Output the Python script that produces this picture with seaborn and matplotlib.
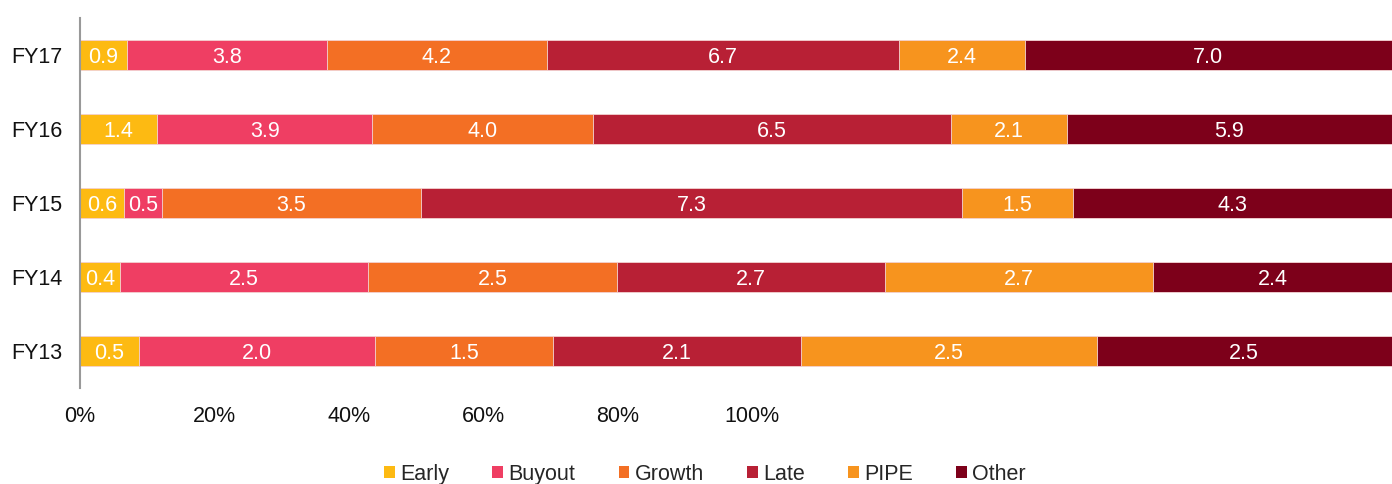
import numpy as np
import pandas as pd
import matplotlib
matplotlib.use("Agg")
import matplotlib.pyplot as plt
from matplotlib.patches import Patch
import seaborn as sns

# Data (values per year, stacked to 100%)
years = ["FY17", "FY16", "FY15", "FY14", "FY13"]
segments = ["Early", "Buyout", "Growth", "Late", "PIPE", "Other"]
early = [0.9, 1.4, 0.6, 0.4, 0.5]
buyout = [3.8, 3.9, 0.5, 2.5, 2.0]
growth = [4.2, 4.0, 3.5, 2.5, 1.5]
late = [6.7, 6.5, 7.3, 2.7, 2.1]
pipe = [2.4, 2.1, 1.5, 2.7, 2.5]
other = [7.0, 5.9, 4.3, 2.4, 2.5]
tick_labels = ["0%", "20%", "40%", "60%", "80%", "100%"]

colors = ["#FDBA12", "#EF3E63", "#F36F24", "#B82035", "#F7941E", "#7D001A"]

sns.set_theme(style="white")
plt.rcParams["font.family"] = ["Liberation Sans", "DejaVu Sans"]
FS = 15.5

values = pd.DataFrame(
    {"Early": early, "Buyout": buyout, "Growth": growth,
     "Late": late, "PIPE": pipe, "Other": other},
    index=years,
)
share = values.div(values.sum(axis=1), axis=0)
cum = share.cumsum(axis=1)

fig = plt.figure(figsize=(13.92, 4.84), dpi=100)
ax = fig.add_axes([80 / 1392, 1 - 388 / 484, 1 - 80 / 1392, 370 / 484])

# overlay cumulative bars, widest first, to get the stacked look
for seg, col in reversed(list(zip(segments, colors))):
    df = pd.DataFrame({"year": years, "cum": cum[seg].values})
    sns.barplot(data=df, x="cum", y="year", order=years, orient="h",
                color=col, width=0.4, edgecolor="#f4d6d6", linewidth=0.6,
                saturation=1, ax=ax)

# value labels centred in each segment
for i, yr in enumerate(years):
    for seg in segments:
        center = cum.loc[yr, seg] - share.loc[yr, seg] / 2
        ax.text(center, i, f"{values.loc[yr, seg]:.1f}", ha="center",
                va="center_baseline", color="white", fontsize=FS)

ax.set_xlim(0, 1)
ax.set_ylim(len(years) - 0.5, -0.5)
ax.set_xlabel("")
ax.set_ylabel("")
ax.set_xticks(np.arange(len(tick_labels)) * 0.1025)
ax.set_xticklabels(tick_labels, fontsize=FS, color="#111111")
ax.tick_params(axis="x", length=0, pad=13)
ax.tick_params(axis="y", length=0, pad=12.5, labelsize=FS, labelcolor="#111111")
for lbl in ax.get_yticklabels():
    lbl.set_verticalalignment("center_baseline")

for side in ["top", "right", "bottom"]:
    ax.spines[side].set_visible(False)
ax.spines["left"].set_color("#999999")
ax.spines["left"].set_linewidth(1.5)

handles = [Patch(facecolor=c, edgecolor="none") for c in colors]
fig.legend(handles, segments, loc="center", bbox_to_anchor=(705 / 1392, 0.02),
           ncol=6, frameon=False, fontsize=FS, handlelength=0.5,
           handleheight=0.5, handletextpad=0.25, columnspacing=2.0,
           borderpad=0.1)

fig.savefig("out.png", dpi=100)
